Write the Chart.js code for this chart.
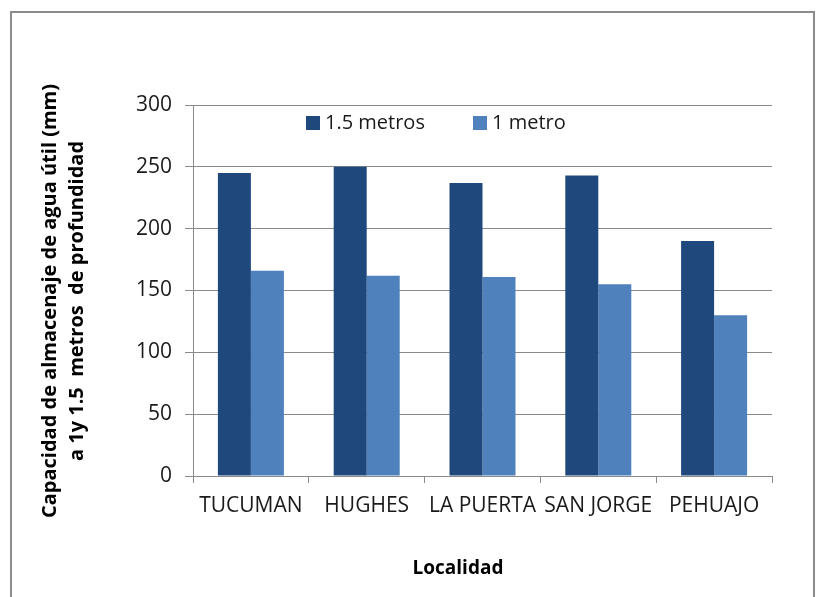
<!DOCTYPE html>
<html>
<head>
<meta charset="utf-8">
<script src="https://cdn.jsdelivr.net/npm/chart.js@4/dist/chart.umd.min.js"></script>
<style>
html,body{margin:0;padding:0;background:#fff;}
#wrap{width:818px;height:597px;position:relative;}
</style>
</head>
<body>
<div id="wrap"><canvas id="c" width="818" height="597"></canvas></div>
<script>
const categories = ["TUCUMAN", "HUGHES", "LA PUERTA", "SAN JORGE", "PEHUAJO"];
const seriesNames = ["1.5 metros", "1 metro"];
const values15 = [245, 250, 237, 243, 190];
const values1 = [166, 162, 161, 155, 130];
const yTicks = [0, 50, 100, 150, 200, 250, 300];
const yTitle = ["Capacidad de almacenaje de agua útil (mm)", "a 1y 1.5  metros  de profundidad"];
const xTitle = "Localidad";
const colors = ["#1F497D", "#4F81BD"];

const FONT = "'Open Sans', 'DejaVu Sans', sans-serif";
const GRID = "#8a8a8a";

const framePlugin = {
  id: 'frame',
  beforeDraw(chart) {
    const ctx = chart.ctx;
    ctx.save();
    ctx.fillStyle = '#fff';
    ctx.fillRect(0, 0, chart.width, chart.height);
    ctx.strokeStyle = '#8c8c8c';
    ctx.lineWidth = 2;
    ctx.strokeRect(11, 12, 803, 700);
    ctx.restore();
  },
  afterDraw(chart) {
    const ctx = chart.ctx;
    ctx.save();
    // legend
    const items = [
      {x: 306, label: seriesNames[0], color: colors[0]},
      {x: 473, label: seriesNames[1], color: colors[1]}
    ];
    ctx.font = "20px " + FONT;
    ctx.textBaseline = 'middle';
    ctx.textAlign = 'left';
    items.forEach(it => {
      ctx.fillStyle = it.color;
      ctx.fillRect(it.x, 116, 14, 14);
      ctx.fillStyle = '#1a1a1a';
      ctx.fillText(it.label, it.x + 19, 123);
    });
    // x title
    ctx.font = "bold 19px " + FONT;
    ctx.fillStyle = '#000';
    ctx.textAlign = 'center';
    ctx.fillText(xTitle, 458, 569);
    // y title
    ctx.font = "bold 20px " + FONT;
    ctx.textAlign = 'center';
    ctx.textBaseline = 'middle';
    const cy = 301;
    ctx.save();
    ctx.translate(50, cy);
    ctx.rotate(-Math.PI / 2);
    ctx.fillText(yTitle[0], 0, 0);
    ctx.restore();
    ctx.save();
    ctx.translate(77, cy);
    ctx.rotate(-Math.PI / 2);
    ctx.fillText(yTitle[1], 0, 0);
    ctx.restore();
    ctx.restore();
  }
};

new Chart(document.getElementById('c'), {
  type: 'bar',
  data: {
    labels: categories,
    datasets: [
      {label: seriesNames[0], data: values15, backgroundColor: colors[0], borderWidth: 0, categoryPercentage: 0.57, barPercentage: 1.0},
      {label: seriesNames[1], data: values1, backgroundColor: colors[1], borderWidth: 0, categoryPercentage: 0.57, barPercentage: 1.0}
    ]
  },
  options: {
    responsive: false,
    animation: false,
    devicePixelRatio: 1,
    layout: {padding: {left: 0, right: 46, top: 105, bottom: 0}},
    plugins: {legend: {display: false}, tooltip: {enabled: false}},
    scales: {
      x: {
        grid: {display: true, drawOnChartArea: false, drawTicks: true, tickLength: 7, color: GRID, offset: true},
        border: {display: true, color: GRID, width: 1},
        ticks: {color: '#1a1a1a', font: {family: FONT, size: 21}, padding: 10, maxRotation: 0, autoSkip: false},
        afterFit(scale) { scale.height = 121; }
      },
      y: {
        min: 0, max: 300,
        afterBuildTicks(scale) { scale.ticks = yTicks.map(v => ({value: v})); },
        grid: {color: GRID, lineWidth: 1, tickLength: 8, drawTicks: true},
        border: {display: true, color: GRID, width: 1},
        ticks: {color: '#1a1a1a', font: {family: FONT, size: 21}, padding: 13},
        afterFit(scale) { scale.width = 193; }
      }
    }
  },
  plugins: [framePlugin]
});
</script>
</body>
</html>
